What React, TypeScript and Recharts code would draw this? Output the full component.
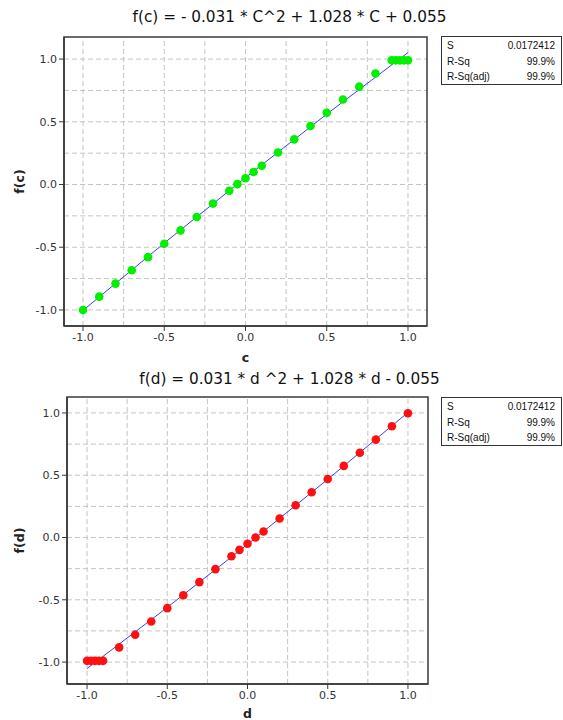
import React from 'react';
import { ComposedChart, XAxis, YAxis, Scatter, Line, ReferenceLine, ReferenceArea } from 'recharts';

// ---- data ----
const cValues = [-1, -0.9, -0.8, -0.7, -0.6, -0.5, -0.4, -0.3, -0.2, -0.1, -0.05, 0, 0.05, 0.1, 0.2, 0.3, 0.4, 0.5, 0.6, 0.7, 0.8, 0.9, 0.925, 0.95, 0.975, 1];
const fcValues = [-1.0, -0.894, -0.79, -0.683, -0.579, -0.472, -0.366, -0.259, -0.152, -0.05, 0.003, 0.05, 0.1, 0.15, 0.255, 0.36, 0.466, 0.572, 0.678, 0.78, 0.885, 0.99, 0.99, 0.99, 0.99, 0.99];

const dValues = [-1, -0.975, -0.95, -0.925, -0.9, -0.8, -0.7, -0.6, -0.5, -0.4, -0.3, -0.2, -0.1, -0.05, 0, 0.05, 0.1, 0.2, 0.3, 0.4, 0.5, 0.6, 0.7, 0.8, 0.9, 1];
const fdValues = [-0.99, -0.99, -0.99, -0.99, -0.99, -0.882, -0.78, -0.674, -0.567, -0.463, -0.358, -0.254, -0.15, -0.099, -0.05, 0.0, 0.048, 0.153, 0.259, 0.363, 0.47, 0.575, 0.68, 0.786, 0.893, 0.997];

// fitted curves, read at five points
const fitX = [-1, -0.5, 0, 0.5, 1];
const fitC = [-1.004, -0.467, 0.055, 0.561, 1.052];
const fitD = [-1.052, -0.561, -0.055, 0.467, 1.004];

const majorTicks = [-1, -0.5, 0, 0.5, 1];
const gridTicks = [-1, -0.75, -0.5, -0.25, 0, 0.25, 0.5, 0.75, 1];

const statLabels = ['S', 'R-Sq', 'R-Sq(adj)'];
const statValues = ['0.0172412', '99.9%', '99.9%'];

const titleC = 'f(c) = - 0.031 * C^2 + 1.028 * C + 0.055';
const titleD = 'f(d) = 0.031 * d ^2 + 1.028 * d - 0.055';

const zip = (xs: number[], ys: number[]) => xs.map((x, i) => ({ x, y: ys[i] }));

const FONT = '"DejaVu Sans", Verdana, sans-serif';
const AXIS = '#3a3a3a';

type PanelProps = {
  points: { x: number; y: number }[];
  fit: { x: number; y: number }[];
  color: string;
  xDomain: [number, number];
  yDomain: [number, number];
  xLabel: string;
  yLabel: string;
  yAxisWidth: number;
  rightMargin: number;
  height: number;
  xAxisHeight: number;
  xLabelDy: number;
};

function Panel(p: PanelProps) {
  const dot = (props: any) => (
    <circle cx={props.cx} cy={props.cy} r={4.3} fill={p.color} stroke="none" />
  );
  return (
    <ComposedChart
      width={563}
      height={p.height}
      margin={{ top: 37, right: p.rightMargin, bottom: 0, left: 0 }}
    >
      <XAxis
        dataKey="x"
        type="number"
        domain={p.xDomain}
        ticks={majorTicks}
        allowDataOverflow
        tickFormatter={(v: number) => v.toFixed(1)}
        height={p.xAxisHeight}
        tick={{ fontSize: 11, fill: '#333', fontFamily: FONT }}
        tickSize={5}
        stroke={AXIS}
        axisLine={{ stroke: AXIS, strokeWidth: 1.5 }}
        tickLine={{ stroke: AXIS }}
        label={{
          content: (lp: any) => {
            const vb = lp.viewBox;
            return (
              <text
                x={vb.x + vb.width / 2}
                y={vb.y + p.xLabelDy}
                textAnchor="middle"
                dominantBaseline="central"
                fontFamily={FONT}
                fontWeight="bold"
                fontSize={12.5}
                fill="#222"
              >
                {p.xLabel}
              </text>
            );
          },
        }}
      />
      <YAxis
        dataKey="y"
        type="number"
        domain={p.yDomain}
        ticks={majorTicks}
        allowDataOverflow
        tickFormatter={(v: number) => v.toFixed(1)}
        width={p.yAxisWidth}
        tick={{ fontSize: 11, fill: '#333', fontFamily: FONT }}
        tickSize={5}
        axisLine={{ stroke: AXIS, strokeWidth: 1.5 }}
        tickLine={{ stroke: AXIS }}
        label={{
          content: (lp: any) => {
            const vb = lp.viewBox;
            const cx = vb.x + 19;
            const cy = vb.y + vb.height / 2;
            return (
              <text
                x={cx}
                y={cy}
                transform={`rotate(-90 ${cx} ${cy})`}
                textAnchor="middle"
                dominantBaseline="central"
                fontFamily={FONT}
                fontWeight="bold"
                fontSize={12.5}
                fill="#222"
              >
                {p.yLabel}
              </text>
            );
          },
        }}
      />
      {gridTicks.map((t) => (
        <ReferenceLine
          key={'gx' + t}
          x={t}
          stroke="#c4c4c4"
          strokeDasharray="5 3"
          strokeWidth={1}
          zIndex={-50}
        />
      ))}
      {gridTicks.map((t) => (
        <ReferenceLine
          key={'gy' + t}
          y={t}
          stroke="#c4c4c4"
          strokeDasharray="5 3"
          strokeWidth={1}
          zIndex={-50}
        />
      ))}
      <ReferenceArea
        x1={p.xDomain[0]}
        x2={p.xDomain[1]}
        y1={p.yDomain[0]}
        y2={p.yDomain[1]}
        fill="none"
        fillOpacity={0}
        stroke={AXIS}
        strokeWidth={1.5}
        ifOverflow="visible"
      />
      <Line
        data={p.fit}
        dataKey="y"
        type="linear"
        stroke="#3c3cff"
        strokeWidth={1}
        dot={false}
        activeDot={false}
        isAnimationActive={false}
      />
      <Scatter
        data={p.points}
        dataKey="y"
        fill={p.color}
        shape={dot}
        isAnimationActive={false}
      />
    </ComposedChart>
  );
}

function StatsBox({ top }: { top: number }) {
  return (
    <div
      style={{
        position: 'absolute',
        left: 441,
        top,
        width: 121,
        height: 49,
        border: '1px solid #333',
        boxSizing: 'border-box',
        background: '#fff',
        fontFamily: '"Liberation Sans", Arial, sans-serif',
        fontSize: 10,
        color: '#111',
        paddingTop: 1,
      }}
    >
      {statLabels.map((l, i) => (
        <div
          key={l}
          style={{
            display: 'flex',
            justifyContent: 'space-between',
            height: 15.5,
            lineHeight: '15.5px',
            padding: '0 6px 0 5px',
          }}
        >
          <span>{l}</span>
          <span>{statValues[i]}</span>
        </div>
      ))}
    </div>
  );
}

function Title({ text, top }: { text: string; top: number }) {
  return (
    <div
      style={{
        position: 'absolute',
        left: 8,
        top,
        width: 563,
        textAlign: 'center',
        fontFamily: FONT,
        fontSize: 15.3,
        lineHeight: '20px',
        color: '#111',
        whiteSpace: 'nowrap',
      }}
    >
      {text}
    </div>
  );
}

export default function App() {
  return (
    <div
      style={{
        position: 'absolute',
        left: 0,
        top: 0,
        width: 563,
        height: 720,
        background: '#fff',
        overflow: 'hidden',
      }}
    >
      <div style={{ position: 'absolute', left: 0, top: 0 }}>
        <Panel
          points={zip(cValues, fcValues)}
          fit={zip(fitX, fitC)}
          color="#00f000"
          xDomain={[-1.117, 1.117]}
          yDomain={[-1.128, 1.176]}
          xLabel="c"
          yLabel="f(c)"
          yAxisWidth={64}
          rightMargin={136}
          height={370}
          xAxisHeight={44}
          xLabelDy={31}
        />
      </div>
      <div style={{ position: 'absolute', left: 0, top: 360 }}>
        <Panel
          points={zip(dValues, fdValues)}
          fit={zip(fitX, fitD)}
          color="#ff1010"
          xDomain={[-1.125, 1.125]}
          yDomain={[-1.176, 1.128]}
          xLabel="d"
          yLabel="f(d)"
          yAxisWidth={67}
          rightMargin={135}
          height={360}
          xAxisHeight={36}
          xLabelDy={29}
        />
      </div>
      <Title text={titleC} top={7} />
      <Title text={titleD} top={369} />
      <StatsBox top={36} />
      <StatsBox top={397} />
    </div>
  );
}
